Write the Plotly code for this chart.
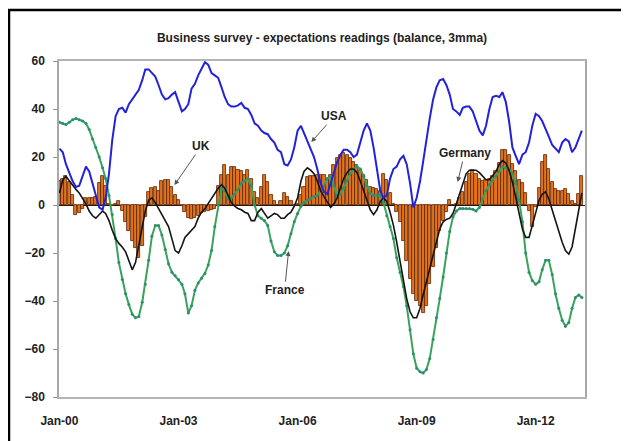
import pandas as pd
import plotly.graph_objects as go

# Monthly observations Jan-2000 .. Mar-2013
months = pd.date_range("2000-01-01", periods=159, freq="MS")

usa = [
    23.5, 22, 17, 13, 10, 7.5, 8, 12, 16, 14, 9, 3,
    -1, -2, 3, 13, 27, 37, 40, 40.5, 38.5, 42, 44, 46,
    48, 52, 56.5, 56.5, 55, 53.5, 50, 46, 44, 44.5, 46, 47,
    43, 39, 40, 42, 48.5, 50.5, 54, 57, 59.5, 58.5, 55, 54,
    53, 49, 45, 42, 41, 41, 41.5, 42.5, 40.5, 40, 37.5, 34,
    33, 31, 30, 29.5, 27.5, 26, 23, 22, 17, 16.5, 19, 24,
    31, 33, 30, 26.5, 23, 20, 15, 9, 5.5, 4.5, 9, 14,
    18, 21, 23, 23, 22, 20, 21, 26, 31, 34, 31, 24,
    14, 6, 3, 4, 11, 15, 16, 19, 20.5, 17, 9, -1,
    3, 10, 18, 28, 36, 44, 49, 52, 52.5, 50, 46, 40,
    39, 37.5, 40.5, 41, 41, 39, 35, 31, 29, 33, 40, 45,
    45.5, 45, 47, 43, 35, 24, 20.5, 17, 21, 22, 26, 33,
    38, 37, 35, 32, 28.5, 25, 23.5, 22, 26, 27.5, 26.5, 22,
    24, 27.5, 31,
]

france = [
    34.5, 34, 33.5, 34.5, 35.5, 36, 35.5, 35, 34, 31.5, 27.5, 24,
    20, 15.5, 11, 4, -4, -14, -24, -31, -37, -41.5, -45.5, -47,
    -46.5, -40.5, -33, -23, -13, -8.5, -8.5, -12.5, -18.5, -24.5, -28, -29.5,
    -31, -33, -37, -45, -42, -35.5, -32.5, -30.5, -28.5, -25, -19, -9,
    0, 7, 6, 2.5, 3, 4.5, 6.5, 9, 10, 11, 8, 0,
    -4.5, -5.5, -6.5, -8.5, -15, -19.5, -21, -21, -20, -17, -12, -7,
    -3.5, -0.5, 1, 2, 2.5, 3.5, 4, 6, 8, 11, 12, 8,
    4, 4.5, 7, 10, 13, 15, 16, 15, 12, 8, 5, 4,
    4, 4, 1, -4.5, -9, -14, -22, -28, -34, -42, -52, -62,
    -68, -69.5, -70, -68.5, -64, -56, -47, -39, -30, -20, -11, -5,
    -2.5, -1.5, -1.5, -1.5, -1.5, -1.8, -2.5, -1, 2.5, 6, 8.5, 10,
    12, 14, 16, 15.5, 15, 13, 9, 2, -7, -20, -28, -31.5,
    -33, -32, -27, -23, -23, -29, -37, -43, -48, -50.5, -49, -43,
    -38.5, -37.5, -38.5,
]

germany = [
    5, 10.5, 12, 10, 8, 6.5, 5, 3, 0.5, -2.5, -4.5, -5.5,
    -4, -2.5, -3.5, -6.5, -10.5, -14, -16, -17.5, -19.5, -23, -27, -24,
    -17, -9, -2.5, 2, 3, 1, -1.5, -4, -6.5, -9, -14, -19,
    -20, -17, -13.5, -12, -10.5, -9, -5.5, -3, -1.5, 0.5, 2.5, 4.5,
    7, 8.5, 7, 4, 1, -0.5, -1.5, -2, -3, -3.5, -6.5, -6.5,
    -3, -1.5, -3.5, -5.5, -4.5, -3.5, -4, -5.5, -5.5, -4, -3, -0.5,
    3, 10, 14, 15.5, 14.5, 13, 10, 6, 3.5, 1, -1, 0.5,
    3, 7.5, 11, 13.5, 15, 15, 13.5, 10, 5.5, 2, -2, -4,
    -2, 1.5, 3, 1.5, -3, -8.5, -15.5, -23.5, -32, -39, -44.5, -47,
    -47, -43, -37.5, -32, -26.5, -21, -15.5, -10, -7, -6, -5.5, -3.5,
    0.5, 5, 9.5, 13, 14.5, 14.5, 14.5, 13.5, 12, 10.5, 10.5, 12,
    14, 17, 18.5, 17.5, 14.5, 9.5, 3, -4, -10, -13.5, -13.5, -8.5,
    -3, 2, 4.5, 5.5, 2.5, -2, -6.5, -11.5, -15.5, -19, -20.5, -17.5,
    -10, -1, 5,
]

uk = [
    10, 11, 12, 9.5, 4, -4, -3.5, -1.5, 3, 3, 3, 3.5,
    9, 12, 8, 0.5, -0.5, 0.5, 1.5, -2.5, -7, -11, -15, -18,
    -22, -17, -5, 5.5, 7, 7.5, 6, 10, 10.5, 10.5, 7.5, 4,
    2, -0.5, -3, -5.5, -6, -5.5, -4.5, -3.5, -3, -2.5, -2, -1.5,
    8, 12.5, 16.5, 12.5, 16, 16, 14.5, 14, 12.5, 14.5, 11, 5.5,
    3, 7.5, 12.5, 9.5, 4, 1.5, 0, 1.5, 5, 3.5, 1.5, -0.5,
    0.5, 4, 7.5, 11.5, 12, 12, 12.5, 12.5, 12.5, 10.5, 12.5, 16.5,
    19.5, 21, 21.5, 21, 19.5, 18, 16.5, 14.5, 12.5, 10.5, 7.5, 7,
    6.5, 6, 13, 10.5, 5, 0.5, -3, -7, -15, -23.5, -31, -37,
    -40, -42, -45, -42, -33, -26, -18, -11, -6.5, -3, 2, 0,
    0.5, 3, 5.5, 9.5, 13, 14.5, 13, 11, 10, 10.5, 11, 12,
    14, 17.5, 23, 23, 21, 17, 14, 10.5, 9, 5, -2.5, -9,
    -1, 7, 18, 21, 15, 9.5, 6.5, 6, 6, 6.5, 4.5, 1.5,
    0.5, 4.5, 12,
]

tick_dates = ["2000-01-01", "2003-01-01", "2006-01-01", "2009-01-01", "2012-01-01"]
tick_text = ["Jan-00", "Jan-03", "Jan-06", "Jan-09", "Jan-12"]
y_ticks = [60, 40, 20, 0, -20, -40, -60, -80]

FONT = "Liberation Sans, Arial, sans-serif"

# page body has an 8px default margin; figure sized so the plot lands where the reference has it
OFF = 8
W, H = 629 - OFF, 441 - OFF
L, T = 59 - OFF, 61 - OFF
PW, PH = 526, 336

fig = go.Figure()
fig.add_trace(go.Bar(
    x=months, y=uk, name="UK",
    width=2.45e9,
    marker=dict(color="#e2731b", line=dict(color="#5a2406", width=0.8)),
))
fig.add_trace(go.Scatter(
    x=months, y=france, name="France", mode="lines+markers",
    line=dict(color="#3aa25a", width=2),
    marker=dict(size=3, color="#2b8f72"),
))
fig.add_trace(go.Scatter(
    x=months, y=germany, name="Germany", mode="lines",
    line=dict(color="#141414", width=1.6),
))
fig.add_trace(go.Scatter(
    x=months, y=usa, name="USA", mode="lines",
    line=dict(color="#2222d8", width=2),
))

ann_common = dict(showarrow=True, arrowhead=2, arrowsize=1, arrowwidth=1,
                  arrowcolor="#555555",
                  font=dict(family=FONT, size=12, color="#222222", weight="bold"))
annotations = [
    dict(x="2006-05-07", y=26.2, ax=23, ay=-26, text="USA", **ann_common),
    dict(x="2002-11-24", y=8.3, ax=27, ay=-39, text="UK", **ann_common),
    dict(x="2005-10-10", y=-19.2, ax=-4, ay=39, text="France", **ann_common),
    dict(x="2010-01-13", y=9.6, ax=7, ay=-29, text="Germany", **ann_common),
]

fig.update_layout(
    width=W, height=H, autosize=False,
    margin=dict(l=L, r=W - L - PW, t=T, b=H - T - PH),
    paper_bgcolor="white", plot_bgcolor="white",
    showlegend=False, bargap=0,
    title=dict(
        text="Business survey - expectations readings (balance, 3mma)",
        x=0.5, xref="paper", y=1 - (38 - OFF) / H, yref="container", yanchor="middle",
        font=dict(family=FONT, size=12, color="#222222", weight="bold"),
    ),
    xaxis=dict(
        type="date", range=["1999-12-28", "2013-03-30"],
        tickvals=tick_dates, ticktext=tick_text,
        showgrid=False, zeroline=False,
        showline=True, linecolor="#b4b4b4", linewidth=1.5, mirror=True,
        ticks="", ticklabelstandoff=12,
        tickfont=dict(family=FONT, size=12, color="#222222", weight="bold"),
    ),
    yaxis=dict(
        range=[-80, 60], tickvals=y_ticks,
        showgrid=False,
        zeroline=True, zerolinecolor="#2a1608", zerolinewidth=1.2,
        showline=True, linecolor="#a8a8a8", linewidth=1.5, mirror=True,
        ticks="outside", ticklen=4, tickcolor="#909090",
        ticklabelstandoff=6,
        tickfont=dict(family=FONT, size=12, color="#222222", weight="bold"),
    ),
    annotations=annotations,
    shapes=[dict(
        type="rect", xref="paper", yref="paper",
        x0=(9 - 59) / PW, x1=(627 - 59) / PW,
        y0=(397 - 470) / PH, y1=(397 - 10) / PH,
        line=dict(color="black", width=2.5), fillcolor="rgba(0,0,0,0)",
        layer="above",
    )],
)

fig.write_html("out.html")
